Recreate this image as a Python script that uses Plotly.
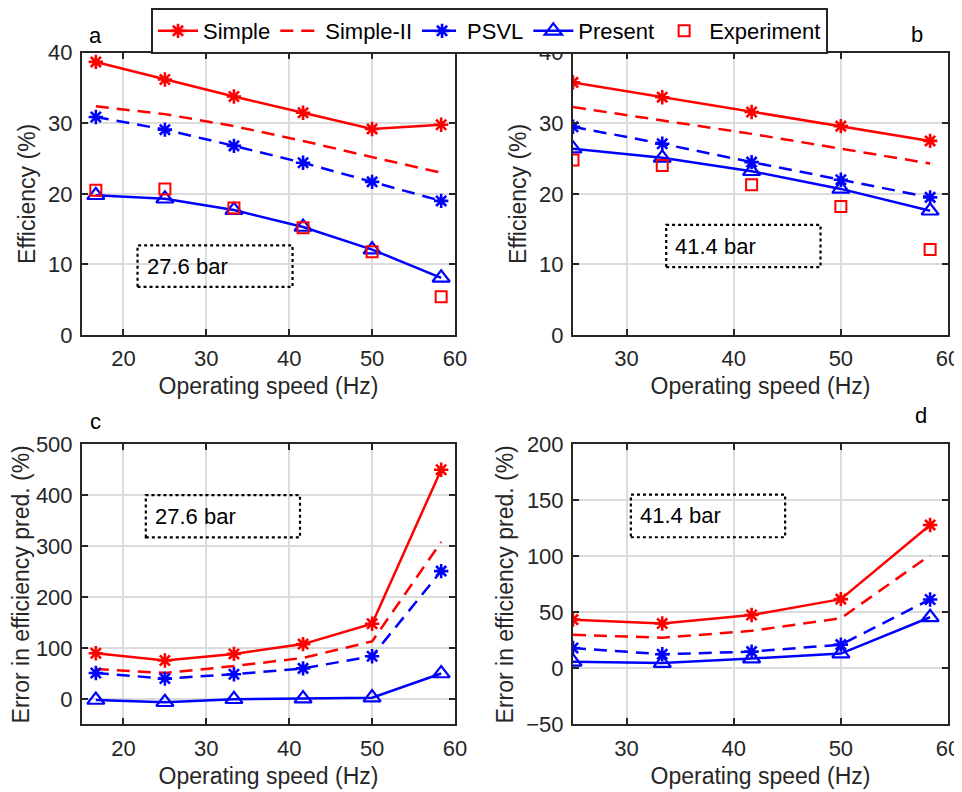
import plotly.graph_objects as go

# ---------------- data ----------------
speed_a = [16.67, 25.0, 33.33, 41.67, 50.0, 58.33]
speed_b = [25.0, 33.33, 41.67, 50.0, 58.33]

# panel a: efficiency at 27.6 bar
eff_a_simple = [38.7, 36.2, 33.8, 31.5, 29.2, 29.8]
eff_a_simple2 = [32.4, 31.3, 29.6, 27.5, 25.2, 23.0]
eff_a_psvl = [30.9, 29.1, 26.8, 24.4, 21.7, 19.0]
eff_a_present = [19.8, 19.3, 17.7, 15.3, 12.1, 8.1]
eff_a_exp = [20.5, 20.7, 18.0, 15.2, 11.8, 5.4]

# panel b: efficiency at 41.4 bar
eff_b_simple = [35.8, 33.7, 31.6, 29.6, 27.5]
eff_b_simple2 = [32.3, 30.4, 28.5, 26.4, 24.3]
eff_b_psvl = [29.5, 27.1, 24.5, 22.0, 19.5]
eff_b_present = [26.4, 25.1, 23.2, 20.7, 17.6]
eff_b_exp = [24.8, 24.0, 21.3, 18.2, 12.1]

# panel c: error at 27.6 bar
err_c_simple = [89.7, 75.5, 88.4, 107.7, 147.7, 450.0]
err_c_simple2 = [59.0, 51.0, 64.5, 80.6, 113.0, 308.0]
err_c_psvl = [51.0, 40.0, 48.4, 60.0, 83.9, 251.0]
err_c_present = [-2.0, -6.5, -0.6, 0.6, 2.6, 50.0]

# panel d: error at 41.4 bar
err_d_simple = [43.5, 40.0, 47.6, 61.8, 128.0]
err_d_simple2 = [30.0, 27.4, 33.5, 44.7, 101.0]
err_d_psvl = [18.2, 12.6, 15.0, 21.2, 61.5]
err_d_present = [5.9, 4.7, 8.8, 13.2, 45.6]

series_names = ["Simple", "Simple-II", "PSVL", "Present", "Experiment"]
panel_labels = ["a", "b", "c", "d"]
box_labels = ["27.6 bar", "41.4 bar", "27.6 bar", "41.4 bar"]

# ---------------- styles ----------------
RED = "#FF0000"
BLUE = "#0000FF"
DARK = "#262626"
FONT = "Liberation Sans, Arial, sans-serif"
FS = 22
FS_T = 23
LW = 2.5
DASH = "13px,8px"

fig = go.Figure()

axes = [("x", "y"), ("x2", "y2"), ("x3", "y3"), ("x4", "y4")]

def add_panel(idx, xs, simple, simple2, psvl, present, exp=None):
    xa, ya = axes[idx]
    show = idx == 0
    fig.add_trace(go.Scatter(
        x=xs, y=simple, name=series_names[0], mode="lines+markers",
        line=dict(color=RED, width=LW),
        marker=dict(symbol="asterisk-open", size=12, color=RED, line=dict(color=RED, width=2.6)),
        xaxis=xa, yaxis=ya, showlegend=show, legendrank=1))
    fig.add_trace(go.Scatter(
        x=xs, y=simple2, name=series_names[1], mode="lines",
        line=dict(color=RED, width=LW, dash=DASH),
        xaxis=xa, yaxis=ya, showlegend=show, legendrank=2))
    fig.add_trace(go.Scatter(
        x=xs, y=psvl, name=series_names[2], mode="lines+markers",
        line=dict(color=BLUE, width=LW, dash=DASH),
        marker=dict(symbol="asterisk-open", size=12, color=BLUE, line=dict(color=BLUE, width=2.6)),
        xaxis=xa, yaxis=ya, showlegend=show, legendrank=3))
    fig.add_trace(go.Scatter(
        x=xs, y=present, name=series_names[3], mode="lines+markers",
        line=dict(color=BLUE, width=LW),
        marker=dict(symbol="triangle-up-open", size=15, color=BLUE, line=dict(color=BLUE, width=2.2)),
        xaxis=xa, yaxis=ya, showlegend=show, legendrank=4))
    if exp is not None:
        fig.add_trace(go.Scatter(
            x=xs, y=exp, name=series_names[4], mode="markers",
            marker=dict(symbol="square-open", size=11, color=RED, line=dict(color=RED, width=2)),
            xaxis=xa, yaxis=ya, showlegend=show, legendrank=5))

add_panel(0, speed_a, eff_a_simple, eff_a_simple2, eff_a_psvl, eff_a_present, eff_a_exp)
add_panel(1, speed_b, eff_b_simple, eff_b_simple2, eff_b_psvl, eff_b_present, eff_b_exp)
add_panel(2, speed_a, err_c_simple, err_c_simple2, err_c_psvl, err_c_present)
add_panel(3, speed_b, err_d_simple, err_d_simple2, err_d_psvl, err_d_present)

# the page has an 8px body margin, so the figure is drawn 8px smaller and
# reference pixel positions are shifted accordingly
OFF = 8
W, H = 962 - OFF, 792 - OFF
def px_x(p):
    return (p - OFF) / W
def px_y(p):
    return 1 - (p - OFF) / H

dom_x = [[px_x(82), px_x(455)], [px_x(573), px_x(948)]] * 2
dom_y = [[px_y(332), px_y(48)]] * 2 + [[px_y(724), px_y(442)]] * 2
x_ranges = [[15, 60], [25, 60], [15, 60], [25, 60]]
y_ranges = [[0, 40], [0, 40], [-50, 500], [-50, 200]]
y_dticks = [10, 10, 100, 50]
y_titles = ["Efficiency (%)", "Efficiency (%)",
            "Error in efficiency pred. (%)", "Error in efficiency pred. (%)"]

common = dict(showline=True, linecolor=DARK, linewidth=2, mirror="allticks",
              ticks="inside", ticklen=6, tickwidth=1.5, tickcolor=DARK,
              showgrid=True, gridcolor="#DCDCDC", gridwidth=1.6, zeroline=False,
              automargin=False, ticklabelstandoff=3,
              tickfont=dict(family=FONT, size=FS, color=DARK))

layout = {}
for i in range(4):
    xk = "xaxis" if i == 0 else f"xaxis{i+1}"
    yk = "yaxis" if i == 0 else f"yaxis{i+1}"
    yname = "y" if i == 0 else f"y{i+1}"
    xname = "x" if i == 0 else f"x{i+1}"
    layout[xk] = dict(common, domain=dom_x[i], range=x_ranges[i], dtick=10, tick0=0,
                      anchor=yname,
                      title=dict(text="Operating speed (Hz)", standoff=8,
                                 font=dict(family=FONT, size=FS_T, color=DARK)))
    layout[yk] = dict(common, domain=dom_y[i], range=y_ranges[i], dtick=y_dticks[i], tick0=0,
                      anchor=xname,
                      title=dict(text=y_titles[i], standoff=6,
                                 font=dict(family=FONT, size=FS_T, color=DARK)))

fig.update_layout(**layout)

# dotted text boxes (data coordinates)
boxes = [(21.7, 6.8, 40.4, 12.7), (33.7, 9.6, 48.1, 15.6),
         (22.7, 317, 41.3, 400), (30.4, 117, 44.8, 155)]
shapes = []
annotations = []
for i, (x0, y0, x1, y1) in enumerate(boxes):
    xa, ya = axes[i]
    shapes.append(dict(type="rect", xref=xa, yref=ya, x0=x0, y0=y0, x1=x1, y1=y1,
                       line=dict(color="black", width=2.2, dash="dot"),
                       fillcolor="rgba(0,0,0,0)"))
    annotations.append(dict(xref=xa, yref=ya, x=x0, y=(y0 + y1) / 2, xanchor="left",
                            yanchor="middle", xshift=7, showarrow=False,
                            text=box_labels[i],
                            font=dict(family=FONT, size=FS, color="black")))

label_pos = [(95, 31), (917, 30), (95, 419), (921, 413)]
for lab, (px, py) in zip(panel_labels, label_pos):
    annotations.append(dict(xref="paper", yref="paper", x=px_x(px), y=px_y(py),
                            xanchor="center", yanchor="middle", showarrow=False,
                            text=lab, font=dict(family=FONT, size=FS, color="black")))

fig.update_layout(
    width=W, height=H,
    margin=dict(l=0, r=0, t=0, b=0),
    paper_bgcolor="white", plot_bgcolor="white",
    shapes=shapes, annotations=annotations,
    legend=dict(orientation="h", x=px_x(151), y=px_y(3), xanchor="left", yanchor="top",
                bordercolor=DARK, borderwidth=2, bgcolor="white",
                font=dict(family=FONT, size=FS, color="black"),
                itemwidth=40, tracegroupgap=0),
    showlegend=True,
)

fig.write_html("out.html")
